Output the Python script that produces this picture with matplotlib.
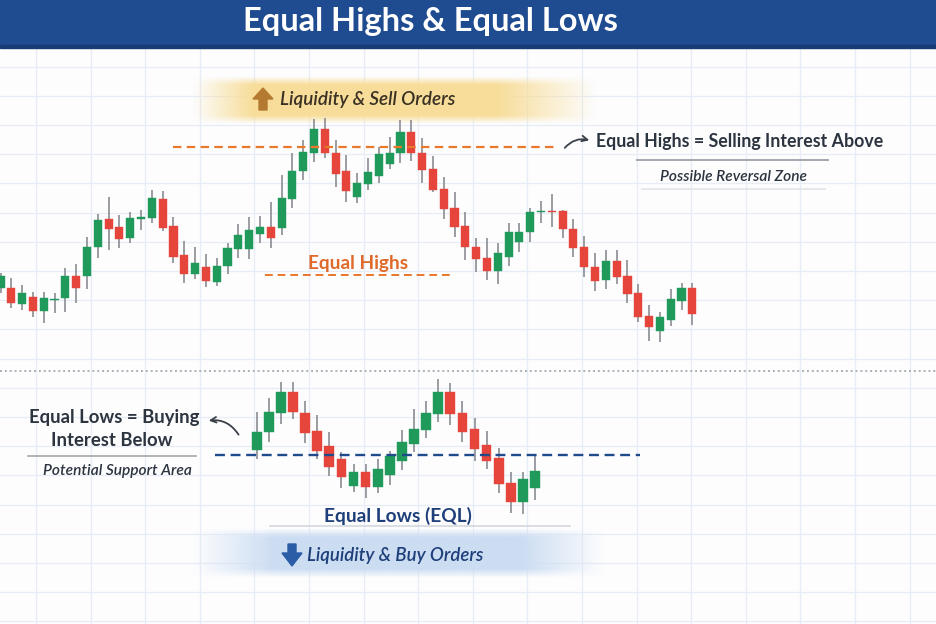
import numpy as np
import matplotlib.pyplot as plt
from matplotlib.patches import Rectangle, Polygon

plt.rcParams['font.family'] = ['Lato', 'DejaVu Sans']

# upper chart: two tops at about the same level (equal highs)
top_open = [112.3, 112.3, 96, 102.7, 89, 99.7, 101.7, 124.3, 124.3, 153.3,
            180.7, 172.7, 161.7, 181, 182.3, 200.7, 174, 145, 125.7, 133.3,
            118.3, 134, 151, 150.7, 165.7, 173.3, 172.3, 200.7, 229, 247.3,
            270.7, 247.3, 229, 202.7, 216, 224.3, 235.7, 246.7, 268.3, 247.3,
            230.7, 211, 191.7, 174.3, 153.3, 142.3, 129, 143.3, 158.3, 167.7,
            188, 189.3, 189, 171, 153.3, 132.7, 120, 139, 124, 107.3,
            84, 69, 80, 99, 112.3]
top_high = [127.3, 122, 115, 107.7, 107.7, 107.3, 131.7, 135.7, 163.3, 185.7,
            203.3, 185, 188.3, 190, 210, 209.3, 183.3, 159, 153.3, 145.7,
            142.3, 156.7, 175.7, 183.3, 184, 198.3, 225, 246.7, 260, 280.7,
            281.7, 260, 245, 226.7, 241.7, 253.3, 263.3, 280, 280, 261.7,
            244.3, 223.3, 208.3, 187.7, 161.7, 161.7, 156.7, 177.3, 177.3, 192.3,
            199.3, 205.7, 190, 180.7, 164.3, 146.7, 150, 150, 140, 115.7,
            95, 88.3, 110.7, 117.3, 116.7]
top_low = [106.7, 92.3, 90, 82.7, 77.3, 87.3, 87.7, 96.7, 111, 142.3,
           150, 152.3, 156.7, 170, 176.7, 169.3, 136.7, 116.7, 120.7, 113.3,
           114, 126, 141.7, 140.7, 156.7, 152.3, 165, 191.7, 220, 238.3,
           241.7, 213.3, 198.3, 197.3, 210, 216.7, 231, 236.7, 239, 216.7,
           208.3, 180.7, 162.7, 140, 128.3, 120, 115.7, 134, 148.3, 158.3,
           176.7, 172.7, 161.7, 143.3, 123.3, 109, 111, 115.7, 97.3, 78.3,
           59, 57.7, 74.3, 90, 75]
top_close = [124.3, 96.7, 106.7, 89, 102.3, 101, 124.3, 112.3, 153.3, 180,
             171, 160.7, 182.3, 182.7, 201.7, 172.3, 143.3, 125.7, 137.3, 119.3,
             134, 152.3, 165, 170, 172.7, 161.7, 201.7, 229.3, 248.3, 270.7,
             246.7, 225.7, 209, 217.3, 228.3, 246, 247.3, 268.3, 247.3, 230,
             210, 190.7, 173.3, 152.7, 141, 129, 146.7, 167.7, 167.7, 187.7,
             189.3, 188, 170.7, 152.3, 132.7, 119.3, 139, 123.3, 106, 82.7,
             72.7, 82.7, 100.7, 111.7, 85.7]
eqh_level = 253

# lower chart: two bottoms at about the same level (equal lows)
bot_open = [150, 168.3, 186.7, 208.3, 187.3, 169, 154.3, 140.7, 114, 128.3,
            113.3, 125, 139.3, 156, 170, 186, 207.7, 187.3, 170.7, 155,
            141.7, 117.3, 97.7, 111.7]
bot_high = [188.3, 201.7, 217.7, 217.7, 199.3, 185, 168.3, 148.3, 135.7, 135.7,
            140.7, 149, 170, 190.7, 199.3, 220.7, 216.7, 199, 182.3, 169.3,
            151.7, 128.3, 128.3, 145]
bot_low = [140.7, 158.3, 176, 180.7, 156.7, 140.7, 124, 111.7, 108.3, 102.3,
           107.3, 115, 130, 148.3, 161.7, 178.3, 175, 158.3, 139.3, 130.7,
           106.7, 87.3, 86, 100]
bot_close = [168.3, 188.3, 208.3, 187.7, 167.3, 149, 132.7, 123.3, 128.3, 113.3,
             130.7, 144, 158.3, 170.7, 187.3, 208.3, 186, 167.7, 151, 139,
             115.7, 98.3, 120.7, 129]
eql_level = 145

GREEN = '#1f9a5b'
RED = '#e5453b'
WICK = '#8a8d92'
ORANGE = '#e8782c'
NAVY = '#1f4a8c'
DARK = '#2c3440'

fig = plt.figure(figsize=(9.36, 6.24), dpi=100)
fig.patch.set_facecolor('#fdfdfe')

# background layer in pixel coordinates
bg = fig.add_axes([0, 0, 1, 1])
bg.axis('off')

for gx in np.arange(36, 936, 54.6):
    bg.axvline(gx, color='#e6edf6', lw=0.9, zorder=0)
for gy in np.arange(66.6, 624, 29.2):
    bg.axhline(gy, color='#e6edf6', lw=0.9, zorder=0)


def band(ax, x0, x1, y0, y1, rgb, fl, fr):
    xs = np.linspace(0, 1, 400)
    ys = np.linspace(0, 1, 80)
    a = np.clip(xs / fl, 0, 1) * np.clip((1 - xs) / fr, 0, 1)
    b = np.clip(np.minimum(ys, 1 - ys) / 0.18, 0, 1)
    img = np.zeros((80, 400, 4))
    img[..., :3] = rgb
    img[..., 3] = b[:, None] * a[None, :]
    ax.imshow(img, extent=(x0, x1, y1, y0), aspect='auto', zorder=1,
              interpolation='bilinear')


band(bg, 192, 598, 76, 124, (0.97, 0.87, 0.60), 0.15, 0.25)
band(bg, 192, 605, 528, 578, (0.80, 0.87, 0.95), 0.2, 0.2)

# title bar
bg.add_patch(Rectangle((0, 0), 936, 46, color='#1f4b90', zorder=2))
bg.add_patch(Rectangle((0, 45), 936, 3, color='#173b73', zorder=2))
bg.text(430, 22, 'Equal Highs & Equal Lows', color='white', fontsize=23.5,
        fontweight='bold', ha='center', va='center', zorder=3)

# separator
bg.plot([0, 936], [371, 371], color='#aab0b8', lw=1.4, ls=(0, (1, 1.5)), zorder=1)

# banners
bg.add_patch(Polygon([(263, 88), (273, 99), (267, 99), (267, 110), (259, 110),
                      (259, 99), (253, 99)], closed=True, color='#b47a32', zorder=3))
bg.text(280, 100, 'Liquidity & Sell Orders', fontsize=13.6, style='italic',
        fontweight='semibold', color='#3a3124', ha='left', va='center', zorder=3)
bg.add_patch(Polygon([(288, 544), (296, 544), (296, 553), (302, 553), (292, 566),
                      (282, 553), (288, 553)], closed=True, color='#2a5da6', zorder=3))
bg.text(307, 555, 'Liquidity & Buy Orders', fontsize=13.4, style='italic',
        fontweight='semibold', color='#1f3f7a', ha='left', va='center', zorder=3)

# right annotation for equal highs
bg.text(596, 142, 'Equal Highs = Selling Interest Above', fontsize=12.8,
        fontweight='bold', color=DARK, ha='left', va='center', zorder=3)
bg.plot([637, 828], [160, 160], color='#a3a8ae', lw=1.4, zorder=2)
bg.text(733, 177, 'Possible Reversal Zone', fontsize=11.2, style='italic',
        fontweight='semibold', color=DARK, ha='center', va='center', zorder=3)
bg.plot([642, 825], [189, 189], color='#e2e4e8', lw=1.2, zorder=2)
bg.annotate('', xy=(592, 141), xytext=(563, 150),
            arrowprops=dict(arrowstyle='->', color='#3a4048', lw=1.3,
                            connectionstyle='arc3,rad=-0.35'), zorder=3)

bg.text(358, 263, 'Equal Highs', fontsize=13.7, fontweight='bold',
        color='#e06a2a', ha='center', va='center', zorder=3)
bg.plot([265, 452], [275, 275], color=ORANGE, lw=1.4, ls=(0, (4, 2.5)), zorder=2)

# left annotation for equal lows
bg.text(114, 417, 'Equal Lows = Buying', fontsize=13.3, fontweight='bold',
        color=DARK, ha='center', va='center', zorder=3)
bg.text(112, 440, 'Interest Below', fontsize=13.3, fontweight='bold',
        color=DARK, ha='center', va='center', zorder=3)
bg.plot([28, 196], [456, 456], color='#a3a8ae', lw=1.2, zorder=2)
bg.text(117, 471, 'Potential Support Area', fontsize=11.2, style='italic',
        fontweight='semibold', color=DARK, ha='center', va='center', zorder=3)
bg.annotate('', xy=(206, 421), xytext=(240, 437),
            arrowprops=dict(arrowstyle='->', color='#3a4048', lw=1.3,
                            connectionstyle='arc3,rad=0.35'), zorder=3)

bg.text(398, 516, 'Equal Lows (EQL)', fontsize=13.8, fontweight='bold',
        color='#1f3f7a', ha='center', va='center', zorder=3)
bg.plot([270, 570], [526, 526], color='#d3d7dd', lw=1.2, zorder=2)

bg.set_xlim(0, 936)
bg.set_ylim(624, 0)


def candles(ax, o, h, l, c, width):
    o, h, l, c = map(np.asarray, (o, h, l, c))
    x = np.arange(len(o))
    cols = np.where(c >= o, GREEN, RED)
    ax.vlines(x, l, h, color=WICK, lw=1.2, zorder=2)
    ax.bar(x, np.maximum(np.abs(c - o), 1.5), width, bottom=np.minimum(o, c),
           color=cols, edgecolor=cols, lw=0.3, zorder=3)


# upper candles: index i sits at pixel 0.5 + i * 10.81, price = 400 - pixel
ax_top = fig.add_axes([0, 0, 1, 1])
ax_top.axis('off')
candles(ax_top, top_open, top_high, top_low, top_close, 0.75)
ax_top.hlines(eqh_level, 15.95, 51.3, color=ORANGE, lw=1.6,
              linestyles=(0, (3.8, 2.4)), zorder=4)
ax_top.set_xlim(-0.5 / 10.81, (936 - 0.5) / 10.81)
ax_top.set_ylim(-224, 400)

# lower candles: index i sits at pixel 256.7 + i * 12.1, price = 600 - pixel
ax_bot = fig.add_axes([0, 0, 1, 1])
ax_bot.axis('off')
candles(ax_bot, bot_open, bot_high, bot_low, bot_close, 0.8)
ax_bot.hlines(eql_level, -3.45, 31.7, color=NAVY, lw=1.7,
              linestyles=(0, (4.2, 2.4)), zorder=4)
ax_bot.set_xlim(-256.7 / 12.1, (936 - 256.7) / 12.1)
ax_bot.set_ylim(-24, 600)

fig.savefig('out.png', dpi=100)
